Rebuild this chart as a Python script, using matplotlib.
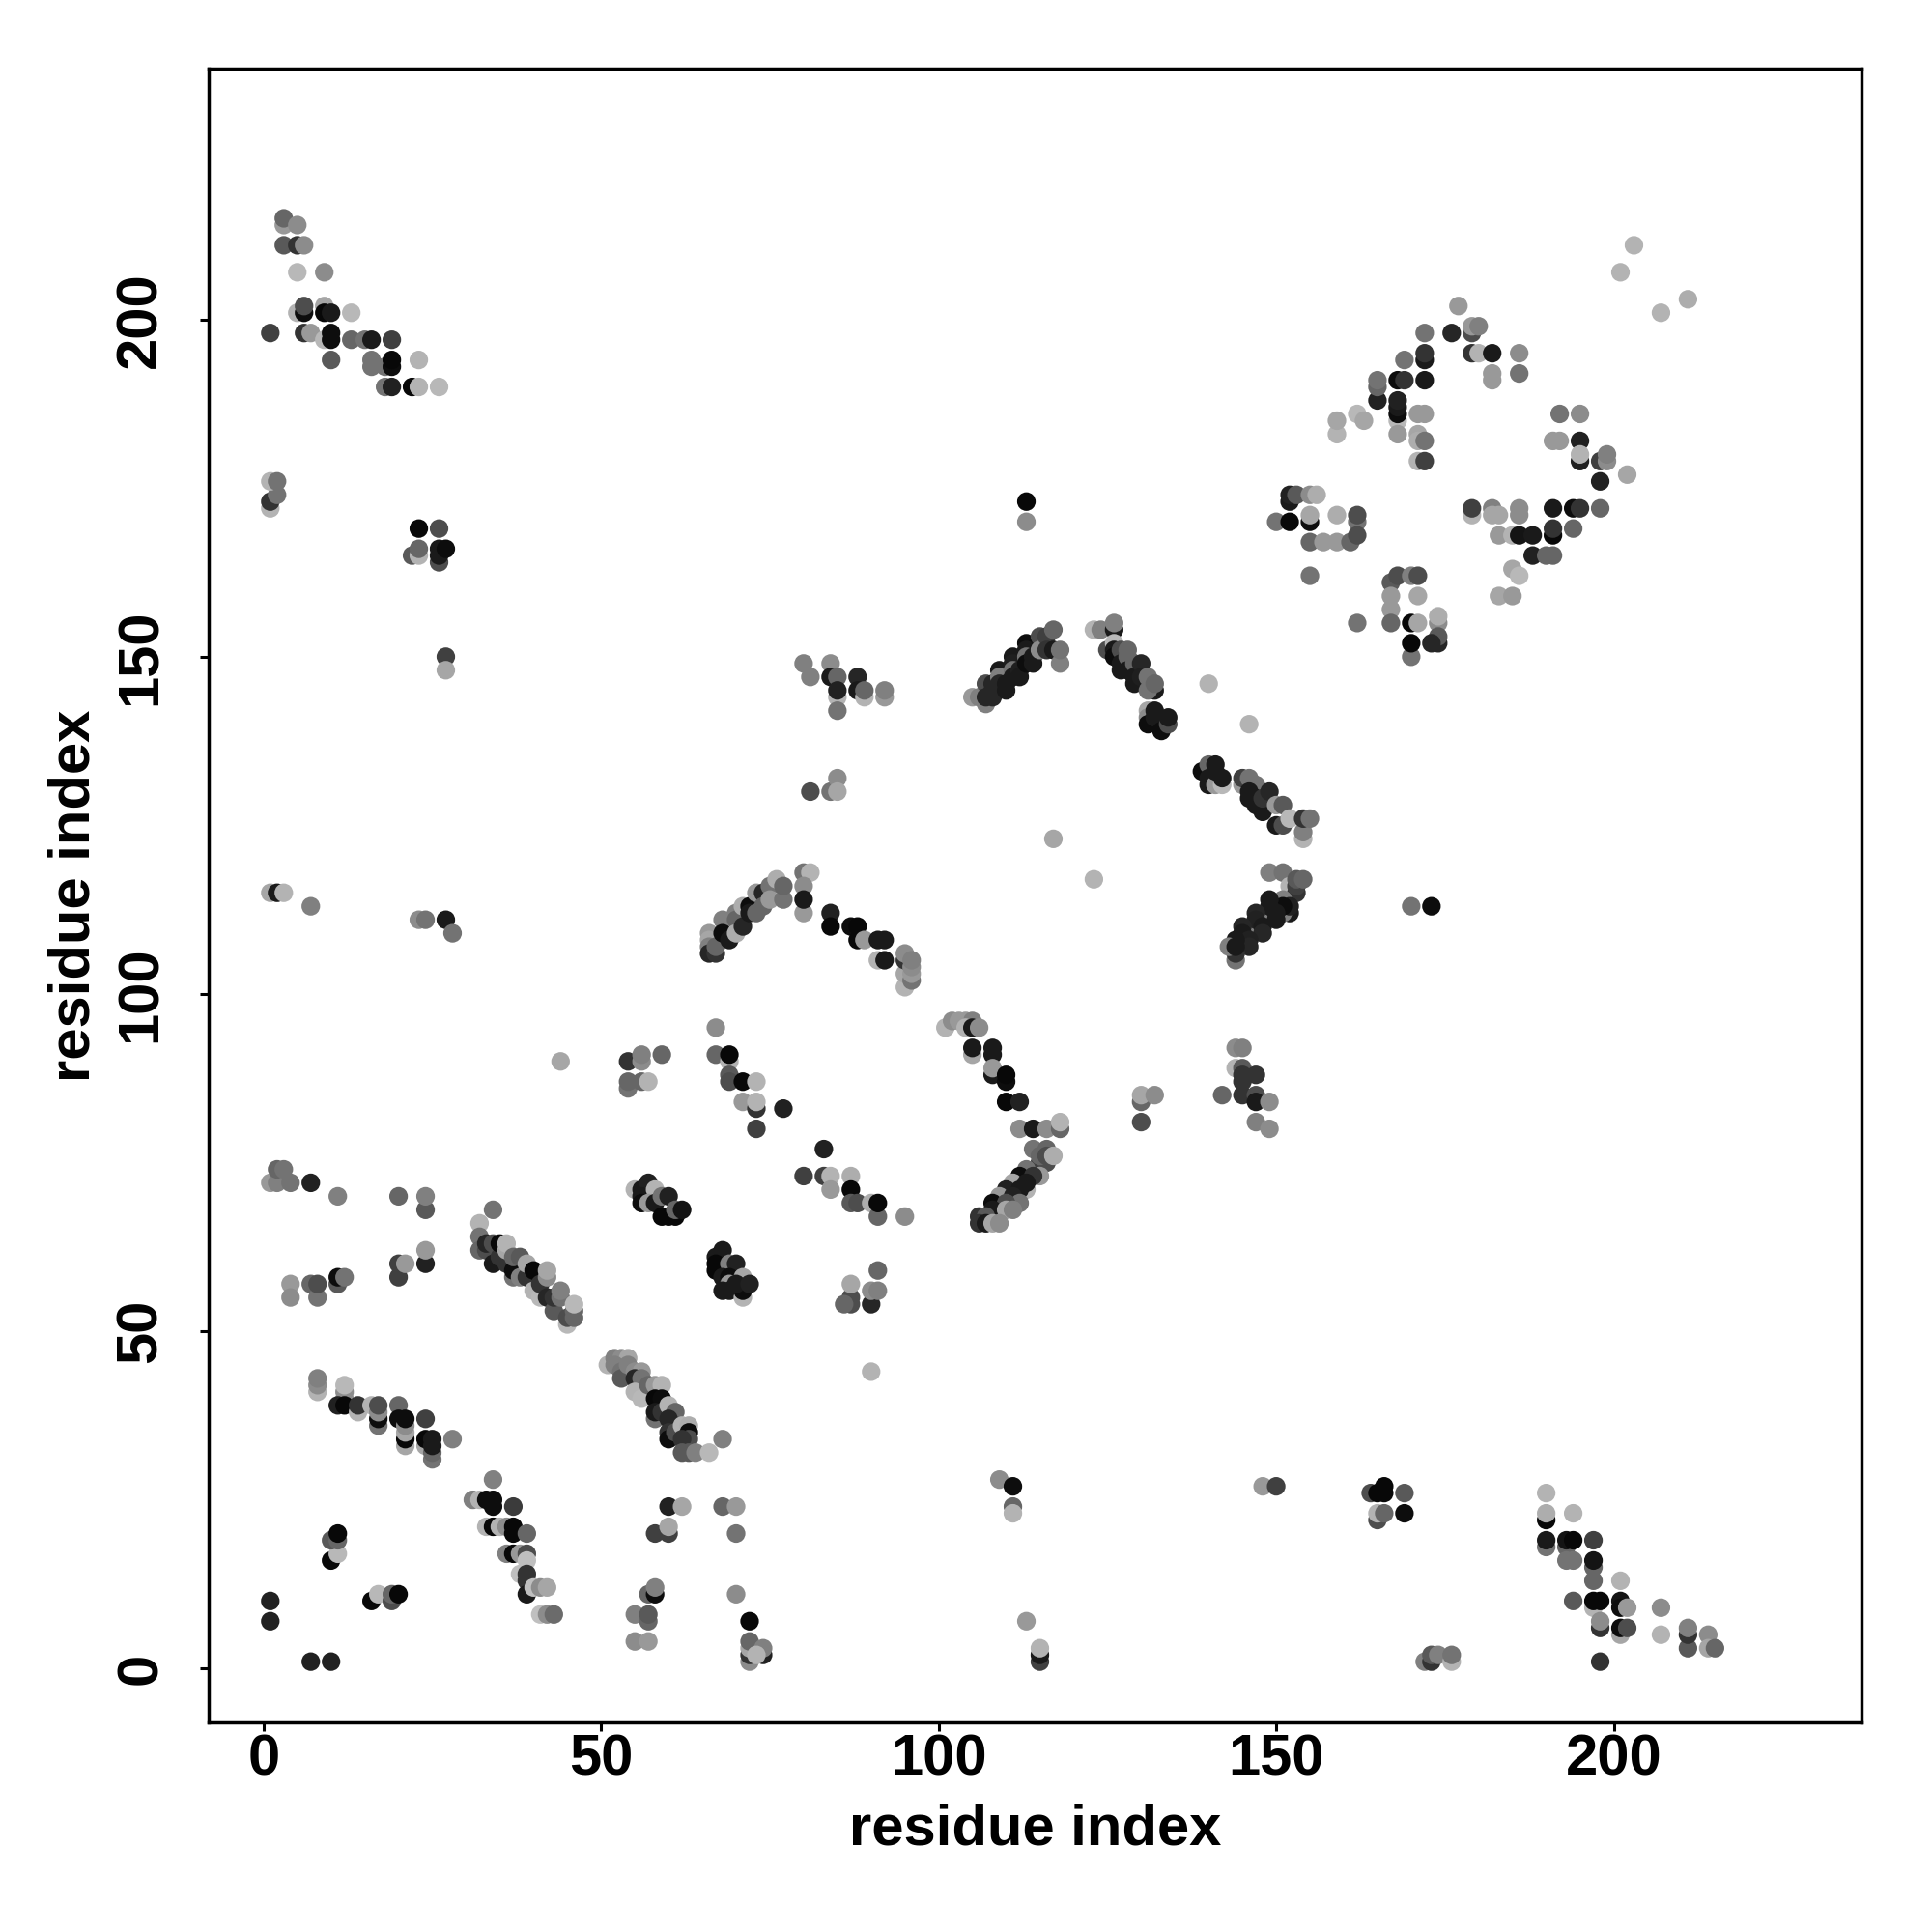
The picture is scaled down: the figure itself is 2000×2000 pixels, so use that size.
import matplotlib
matplotlib.use('Agg')
import matplotlib.pyplot as plt

plt.rcParams['font.family'] = ['Liberation Sans', 'DejaVu Sans']
plt.rcParams['font.weight'] = 'bold'

# contacts as (residue i, residue j, shade in percent of white), grouped by region
tick_values = [0, 50, 100, 150, 200]
axis_label = 'residue index'

isolated = [(1, 10, 13), (1, 7, 13), (7, 1, 13), (10, 1, 13), (44, 90, 65), (90, 44, 70),
            (117, 123, 65), (123, 117, 70), (140, 146, 70), (146, 140, 70),
            (113, 173, 3), (113, 170, 55), (170, 113, 45), (173, 113, 5),
            (148, 27, 60), (150, 27, 25), (27, 150, 25), (27, 148, 65),
            (109, 28, 55), (111, 27, 5), (111, 24, 40), (111, 23, 70),
            (113, 7, 60), (115, 1, 25), (115, 2, 10), (115, 3, 70),
            (198, 1, 20), (203, 211, 70), (201, 207, 70), (207, 201, 70), (211, 203, 68)]

low_left = [(16, 10, 3), (17, 11, 72), (19, 10, 30), (19, 11, 40), (20, 11, 3),
            (10, 16, 3), (11, 17, 72), (10, 19, 35), (11, 19, 40), (11, 20, 3)]

strip_31_43 = [(31, 25, 50), (32, 25, 70), (34, 28, 50), (33, 25, 5), (34, 25, 5), (34, 24, 5), (37, 24, 23),
               (33, 21, 70), (34, 21, 3), (35, 21, 70), (36, 21, 55), (37, 21, 3), (37, 20, 3), (39, 20, 40),
               (36, 17, 50), (37, 17, 3), (38, 17, 60), (39, 17, 30), (39, 16, 75), (38, 14, 75), (39, 14, 20),
               (39, 13, 20), (39, 11, 10), (40, 12, 75), (41, 12, 55), (42, 12, 65),
               (41, 8, 75), (42, 8, 55), (43, 8, 42)]

left_55 = [(4, 57, 60), (4, 55, 55), (7, 57, 40), (8, 55, 45), (8, 57, 30), (11, 57, 35), (11, 58, 5), (12, 58, 45),
           (20, 58, 25), (20, 60, 25), (21, 60, 60), (24, 60, 13), (24, 62, 60), (24, 68, 35), (24, 70, 50),
           (11, 70, 50), (20, 70, 40),
           (1, 72, 60), (2, 72, 50), (2, 74, 40), (3, 74, 45), (4, 72, 45), (7, 72, 13)]

strip_32_46 = [(34, 68, 45), (32, 66, 70), (32, 64, 45), (32, 62, 40), (33, 62, 30), (33, 63, 15), (34, 63, 30),
               (34, 60, 10), (35, 61, 20), (35, 63, 3), (36, 60, 20), (36, 62, 65), (36, 63, 70),
               (37, 58, 45), (37, 59, 5), (37, 61, 40), (38, 58, 50), (38, 61, 35), (39, 58, 20), (39, 60, 65),
               (40, 59, 3), (40, 56, 70), (41, 55, 72), (41, 57, 20), (42, 55, 15), (42, 58, 55), (42, 59, 65),
               (43, 53, 35), (43, 55, 20), (44, 55, 45), (44, 56, 50), (45, 51, 72), (45, 52, 30),
               (46, 52, 40), (46, 53, 40), (46, 54, 72)]

strip_8_28 = [(8, 41, 70), (8, 42, 55), (8, 43, 50), (12, 40, 60), (12, 41, 55), (12, 42, 72), (11, 39, 13), (12, 39, 3),
              (14, 38, 70), (14, 39, 20), (16, 39, 70), (17, 36, 45), (17, 37, 5), (17, 38, 55), (17, 39, 30),
              (20, 39, 40), (20, 37, 5), (21, 33, 65), (21, 34, 3), (21, 35, 65), (21, 36, 55), (21, 37, 5),
              (24, 37, 25), (24, 33, 65), (24, 34, 3), (25, 31, 45), (25, 32, 40), (25, 33, 10), (25, 34, 10), (28, 34, 50)]

low_55_74 = [(60, 24, 13), (62, 24, 65), (68, 24, 40), (70, 24, 60), (58, 20, 25), (60, 20, 25), (60, 21, 65), (70, 20, 45),
             (57, 11, 40), (58, 11, 5), (58, 12, 50), (70, 11, 55), (55, 8, 50), (57, 7, 40), (57, 8, 35), (55, 4, 55), (57, 4, 60),
             (72, 7, 3), (72, 1, 55), (72, 2, 20), (72, 3, 65), (72, 4, 40), (74, 2, 13), (74, 3, 50), (73, 2, 70)]

block_54_59 = [(54, 90, 20), (56, 90, 55), (56, 91, 50), (59, 91, 40), (54, 86, 45), (54, 87, 40), (56, 87, 40), (57, 87, 70)]

block_67_77 = [(67, 95, 55), (67, 91, 40), (69, 90, 70), (69, 91, 3), (69, 88, 35), (69, 87, 30), (71, 87, 3), (73, 87, 70),
               (71, 84, 60), (73, 83, 20), (73, 84, 70), (77, 83, 13), (73, 80, 25)]

block_80_95 = [(83, 77, 13), (80, 73, 25), (83, 73, 25), (84, 73, 70), (87, 73, 68), (84, 71, 60), (87, 71, 3), (87, 69, 35),
               (88, 69, 30), (90, 69, 68), (91, 67, 40), (91, 69, 3), (95, 67, 55)]

block_55_62 = [(55, 71, 70), (56, 71, 10), (57, 72, 13), (56, 70, 10), (58, 71, 70), (56, 69, 5), (57, 69, 60), (58, 69, 10),
               (59, 70, 45), (60, 70, 13), (59, 67, 3), (60, 67, 3), (61, 67, 3), (61, 68, 40), (62, 68, 8)]

block_67_72 = [(68, 62, 10), (67, 61, 10), (67, 60, 3), (67, 59, 3), (69, 60, 50), (70, 60, 13), (68, 58, 10), (69, 58, 5),
               (69, 57, 60), (68, 56, 10), (69, 56, 10), (71, 55, 70), (71, 56, 5), (71, 58, 65), (70, 57, 10), (72, 57, 13)]

block_86_91 = [(91, 59, 40), (87, 54, 30), (87, 55, 30), (87, 57, 65), (90, 54, 15), (90, 56, 55), (91, 56, 50), (86, 54, 40)]

chevron_low = [(112, 80, 55), (114, 80, 10), (116, 80, 55), (118, 80, 40), (118, 81, 70), (114, 77, 45), (116, 77, 40),
               (115, 75, 25), (116, 75, 30), (115, 76, 40), (116, 76, 30), (117, 76, 68), (115, 73, 60), (113, 74, 45), (112, 73, 5),
               (114, 73, 20), (111, 72, 65), (113, 71, 70), (113, 72, 10), (110, 71, 13), (112, 71, 10), (109, 70, 60),
               (111, 70, 13), (112, 69, 45), (108, 69, 5), (110, 69, 30), (108, 68, 10), (110, 68, 65), (111, 68, 50),
               (106, 67, 20), (107, 67, 35), (106, 66, 20), (107, 66, 10), (108, 66, 65), (109, 66, 55)]

arc_101_112 = [(101, 95, 70), (102, 96, 55), (103, 96, 60), (104, 96, 60), (105, 96, 50), (104, 95, 70), (105, 95, 10), (106, 95, 55),
               (105, 91, 65), (105, 92, 10), (108, 91, 10), (108, 92, 10), (108, 88, 10), (108, 89, 60), (110, 87, 5), (110, 88, 3),
               (110, 84, 3), (112, 84, 13), (130, 84, 40), (130, 85, 65), (132, 85, 55), (130, 81, 30)]

block_142_149 = [(144, 92, 55), (145, 92, 50), (144, 89, 70), (145, 89, 35), (145, 87, 20), (145, 88, 20), (147, 88, 20),
                 (142, 85, 40), (145, 85, 20), (147, 85, 30), (147, 84, 10), (149, 84, 55), (147, 81, 50), (149, 80, 55)]

strip_51_66 = [(51, 45, 70), (52, 46, 50), (53, 46, 55), (54, 46, 65), (52, 45, 50), (53, 44, 45), (53, 43, 35), (54, 45, 50),
               (55, 44, 55), (56, 44, 60), (55, 43, 15), (56, 43, 45), (55, 41, 70), (56, 40, 72), (57, 42, 40), (58, 42, 60),
               (59, 42, 70), (58, 40, 3), (59, 40, 5), (58, 37, 45), (58, 38, 10), (59, 38, 20), (60, 39, 70), (61, 38, 40),
               (60, 37, 15), (60, 35, 20), (60, 34, 5), (61, 35, 30), (62, 36, 70), (63, 36, 68), (63, 35, 5), (63, 34, 30),
               (62, 34, 20), (62, 32, 35), (63, 32, 35), (64, 32, 50), (66, 32, 72), (68, 34, 50)]

top_left = [(3, 214, 60), (3, 215, 40), (5, 214, 55), (3, 211, 35), (5, 211, 20), (6, 211, 55), (5, 207, 72), (9, 207, 55),
            (5, 201, 70), (6, 201, 5), (6, 202, 30), (9, 202, 65), (9, 201, 3), (10, 201, 10), (13, 201, 72),
            (1, 198, 25), (6, 198, 20), (7, 198, 60), (9, 197, 72), (10, 197, 5), (10, 198, 5), (13, 197, 40), (15, 197, 45),
            (16, 197, 10), (19, 197, 25), (10, 194, 35), (16, 193, 45), (16, 194, 45), (18, 193, 45), (19, 193, 5), (19, 194, 3),
            (23, 194, 70), (18, 190, 45), (19, 190, 13), (22, 190, 3), (23, 190, 70), (26, 190, 72)]

left_mid = [(1, 172, 70), (1, 173, 20), (2, 174, 45), (1, 176, 70), (2, 176, 45),
            (23, 169, 3), (26, 169, 30), (22, 165, 35), (23, 165, 70), (23, 166, 40), (26, 164, 30), (26, 165, 10), (26, 166, 10), (27, 166, 5),
            (1, 115, 65), (2, 115, 10), (3, 115, 70), (7, 113, 50), (23, 111, 55), (24, 111, 45), (27, 111, 10), (28, 109, 45)]

block_80_92 = [(80, 149, 50), (81, 147, 50), (84, 149, 55), (84, 147, 10), (85, 147, 40), (85, 144, 70), (85, 145, 13), (85, 142, 45),
               (88, 147, 15), (88, 145, 10), (89, 144, 70), (89, 145, 40), (92, 144, 60), (92, 145, 50),
               (81, 130, 30), (84, 130, 45), (85, 132, 55), (85, 130, 65)]

strip_105_118 = [(105, 144, 60), (106, 144, 50), (107, 143, 50), (107, 146, 30), (107, 144, 15), (108, 146, 15), (108, 145, 15), (108, 144, 15),
                 (109, 148, 10), (109, 147, 50), (109, 146, 15), (110, 146, 10), (110, 145, 10), (111, 150, 10), (111, 149, 12), (111, 148, 45),
                 (111, 147, 10), (112, 148, 12), (112, 147, 10), (113, 152, 5), (113, 151, 10), (113, 150, 45), (113, 149, 5), (114, 150, 10), (114, 149, 10),
                 (115, 153, 30), (115, 151, 55), (116, 153, 25), (116, 151, 20), (117, 154, 40), (117, 151, 10), (118, 149, 50), (118, 151, 45)]

strip_123_134 = [(123, 154, 70), (124, 154, 50), (126, 154, 10), (126, 155, 50), (125, 151, 30), (126, 152, 72), (126, 151, 10), (126, 150, 5),
                 (127, 151, 30), (128, 151, 40), (127, 149, 10), (127, 148, 10), (128, 150, 40), (128, 148, 10), (129, 149, 40), (129, 146, 10), (129, 147, 10),
                 (130, 149, 15), (130, 147, 12), (131, 147, 45), (132, 145, 10), (131, 145, 45), (132, 146, 40),
                 (131, 142, 65), (131, 141, 55), (131, 140, 5), (132, 142, 10), (132, 141, 10), (133, 139, 5), (134, 140, 30), (134, 141, 10)]

strip_139_155 = [(139, 133, 5), (140, 134, 40), (141, 134, 10), (140, 131, 10), (140, 132, 10), (141, 131, 60), (142, 131, 72), (141, 133, 10),
                 (142, 132, 10), (145, 131, 60), (145, 132, 25), (146, 132, 45), (147, 131, 45), (146, 130, 10), (146, 129, 10), (147, 129, 10), (147, 128, 10), (148, 127, 10),
                 (148, 129, 20), (149, 130, 15), (150, 128, 60), (151, 128, 35), (150, 125, 10), (151, 125, 30), (152, 126, 72),
                 (154, 123, 70), (154, 124, 50), (154, 126, 20), (155, 126, 45)]

strip_143_155 = [(149, 118, 50), (151, 118, 45), (152, 116, 70), (153, 115, 20), (153, 116, 25), (153, 117, 35), (154, 117, 40),
                 (151, 114, 50), (152, 112, 10), (151, 112, 50), (152, 113, 13), (151, 113, 5), (149, 114, 10), (149, 112, 50), (149, 113, 10),
                 (150, 112, 10), (150, 111, 10), (147, 112, 15), (147, 110, 50), (147, 111, 13), (148, 110, 10), (148, 109, 15),
                 (145, 110, 15), (145, 108, 40), (145, 109, 10), (146, 108, 13), (146, 107, 15),
                 (144, 105, 45), (144, 106, 20), (144, 108, 10), (143, 107, 50), (144, 107, 10)]

arc_66_96 = [(66, 109, 60), (66, 108, 65), (66, 107, 50), (66, 106, 15), (67, 106, 20), (67, 107, 40), (68, 111, 50), (68, 109, 5),
             (69, 108, 10), (70, 112, 50), (70, 111, 40), (70, 109, 68), (71, 113, 68), (71, 110, 15), (72, 113, 5), (72, 112, 10), (73, 115, 60),
             (73, 112, 40), (74, 115, 15), (74, 113, 40), (75, 116, 45), (75, 114, 60), (76, 117, 68), (77, 114, 45), (77, 116, 40),
             (80, 118, 45), (81, 118, 70), (80, 116, 55), (80, 112, 60), (80, 114, 10), (84, 112, 13), (84, 110, 3), (87, 110, 5), (88, 110, 3),
             (88, 108, 3), (89, 108, 60), (91, 108, 10), (92, 108, 10), (91, 105, 70), (92, 105, 10),
             (95, 101, 70), (95, 103, 65), (95, 105, 20), (95, 106, 55), (96, 102, 45), (96, 103, 60), (96, 104, 55), (96, 105, 50)]

upper_right = [(177, 202, 60), (172, 198, 45), (176, 198, 15), (179, 198, 30), (179, 199, 60), (180, 199, 50),
               (179, 195, 20), (180, 195, 70), (182, 195, 10), (186, 195, 55), (182, 191, 60), (182, 192, 60), (186, 192, 45),
               (172, 194, 10), (172, 195, 20), (169, 194, 45), (172, 191, 10), (168, 191, 5), (169, 191, 20), (165, 188, 13), (165, 190, 40), (165, 191, 45),
               (168, 185, 72), (168, 186, 5), (168, 187, 10), (168, 188, 13), (171, 186, 60), (172, 186, 60), (168, 183, 60),
               (171, 183, 65), (171, 182, 68), (172, 182, 45), (171, 179, 70), (172, 179, 25),
               (159, 183, 70), (159, 185, 65), (162, 186, 72), (163, 185, 65),
               (192, 186, 45), (195, 186, 55), (191, 182, 60), (192, 182, 60), (195, 182, 13), (195, 179, 13), (195, 180, 70),
               (198, 179, 25), (199, 179, 55), (199, 180, 50), (198, 176, 13), (202, 177, 65),
               (179, 171, 70), (179, 172, 25), (182, 172, 50), (182, 171, 65), (183, 171, 65), (186, 171, 55), (186, 172, 55),
               (191, 172, 10), (194, 172, 5), (195, 172, 20), (198, 172, 40),
               (183, 168, 60), (185, 168, 70), (186, 168, 8), (188, 168, 10), (191, 168, 3), (191, 169, 20), (194, 169, 40),
               (188, 165, 13), (190, 165, 40), (191, 165, 40), (185, 163, 65), (186, 162, 72), (183, 159, 65), (185, 159, 60)]

diamond_left = [(152, 173, 10), (152, 174, 13), (153, 174, 35), (155, 174, 55), (156, 174, 68),
                (150, 170, 45), (152, 170, 3), (155, 170, 5), (155, 171, 65), (159, 171, 68), (162, 170, 45), (162, 171, 30),
                (155, 167, 40), (157, 167, 60), (159, 167, 60), (161, 167, 40), (162, 168, 30), (155, 162, 45), (162, 155, 45),
                (167, 161, 35), (168, 162, 30), (170, 162, 50), (171, 162, 30), (167, 159, 60), (171, 159, 65), (167, 157, 60), (167, 155, 40),
                (170, 155, 3), (171, 155, 65), (174, 155, 55), (174, 156, 68), (174, 152, 15), (174, 153, 35), (173, 152, 15),
                (170, 150, 45), (170, 152, 3)]

lower_right = [(190, 26, 70), (190, 22, 3), (190, 23, 68), (194, 23, 70), (190, 18, 45), (190, 19, 10), (193, 18, 40), (193, 19, 8), (194, 19, 3), (197, 19, 25),
               (193, 16, 45), (194, 16, 45), (197, 15, 40), (197, 16, 8), (197, 13, 40), (201, 13, 70),
               (194, 10, 35), (197, 9, 70), (197, 10, 3), (198, 10, 3), (201, 10, 8), (201, 9, 5), (202, 9, 60),
               (198, 6, 20), (198, 7, 55), (201, 5, 65), (201, 6, 5), (202, 6, 30), (207, 9, 55), (207, 5, 70),
               (211, 3, 35), (211, 5, 20), (211, 6, 50), (214, 5, 55), (214, 3, 65), (215, 3, 40),
               (172, 1, 50), (173, 1, 20), (173, 2, 35), (174, 2, 50), (176, 1, 70), (176, 2, 45),
               (164, 26, 30), (165, 26, 3), (166, 26, 3), (166, 27, 3), (169, 26, 35), (165, 22, 30), (165, 23, 70), (166, 23, 40), (169, 23, 5)]

all_regions = [isolated, low_left, strip_31_43, left_55, strip_32_46, strip_8_28, low_55_74, block_54_59,
               block_67_77, block_80_95, block_55_62, block_67_72, block_86_91, chevron_low, arc_101_112, block_142_149,
               strip_51_66, top_left, left_mid, block_80_92, strip_105_118, strip_123_134, strip_139_155, strip_143_155,
               arc_66_96, upper_right, diamond_left, lower_right]

fig = plt.figure(figsize=(10, 10), dpi=200)
ax = fig.add_axes([0.108, 0.1085, 0.8555, 0.856])

for region in all_regions:
    xs, ys, shades = zip(*region)
    ax.scatter(xs, ys, c=[str(s / 100) for s in shades], s=48, linewidths=0, zorder=3)

ax.set_xlim(-8.13, 236.7)
ax.set_ylim(-8.0, 237.2)
ax.set_xticks(tick_values)
ax.set_yticks(tick_values)
ax.tick_params(axis='x', length=3.2, width=1.1, labelsize=21.5, pad=1)
ax.tick_params(axis='y', length=3.2, width=1.1, labelsize=21.5, pad=12)
for label in ax.get_yticklabels():
    label.set_rotation(90)
    label.set_va('center')
for spine in ax.spines.values():
    spine.set_linewidth(1.25)

ax.set_xlabel(axis_label, fontsize=21.5, fontweight='bold', labelpad=6)
ax.set_ylabel(axis_label, fontsize=21.5, fontweight='bold', labelpad=5)

fig.savefig('out.png', dpi=200)
